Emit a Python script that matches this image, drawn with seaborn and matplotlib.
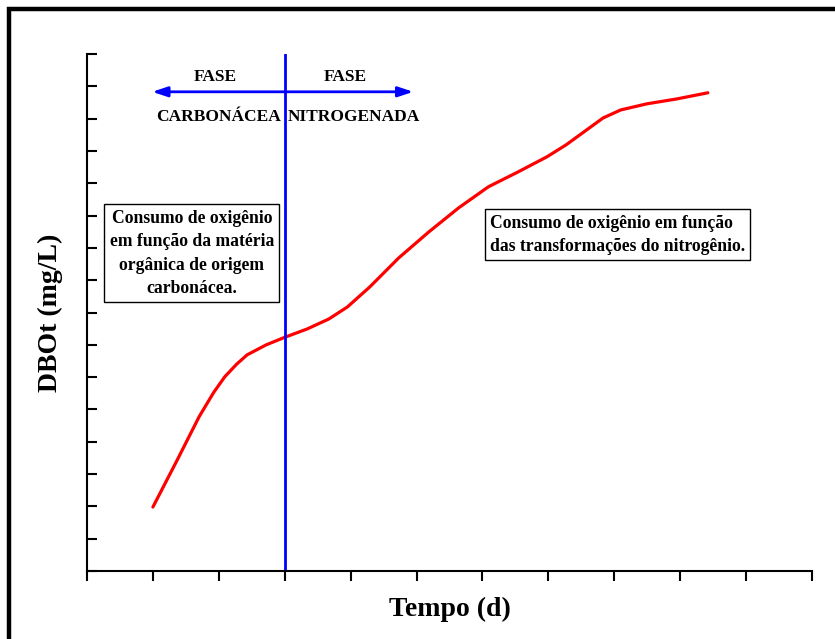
import matplotlib
matplotlib.use("Agg")
import matplotlib.pyplot as plt
from matplotlib.patches import Rectangle
import pandas as pd
import seaborn as sns

# curve (x in tick units, y in tick units)
tempo = [1.00, 1.37, 1.70, 1.92, 2.09, 2.27, 2.43, 2.72, 3.01, 3.34, 3.67, 3.95, 4.29, 4.73,
         5.19, 5.64, 6.09, 6.54, 6.98, 7.27, 7.54, 7.83, 8.10, 8.50, 8.95, 9.42]
dbo = [1.98, 3.44, 4.77, 5.52, 6.01, 6.40, 6.69, 7.00, 7.24, 7.49, 7.80, 8.17, 8.79, 9.69,
       10.50, 11.24, 11.89, 12.35, 12.82, 13.19, 13.59, 14.02, 14.27, 14.46, 14.61, 14.80]
x_fase = 3.01
y_seta = 14.83
x_seta_esq = 0.99
x_seta_dir = 4.95

df = pd.DataFrame({"Tempo": tempo, "DBOt": dbo})

sns.set_style("ticks")
plt.rcParams["font.family"] = ["Liberation Serif", "DejaVu Serif"]
plt.rcParams["font.weight"] = "bold"
plt.rcParams["text.color"] = "black"
plt.rcParams["axes.labelcolor"] = "black"
plt.rcParams["xtick.color"] = "black"
plt.rcParams["ytick.color"] = "black"
plt.rcParams["axes.edgecolor"] = "black"

fig = plt.figure(figsize=(8.35, 6.39), dpi=100)
ax = fig.add_axes([87 / 835, 68 / 639, 725 / 835, 517 / 639])

sns.lineplot(data=df, x="Tempo", y="DBOt", ax=ax, color="red", linewidth=2.3, sort=False)
ax.axvline(x_fase, color="blue", linewidth=2)

arrow = dict(arrowstyle="-|>,head_length=0.9,head_width=0.3", color="blue", lw=2, shrinkA=0, shrinkB=0)
ax.annotate("", xy=(x_seta_esq, y_seta), xytext=(x_fase, y_seta), arrowprops=arrow)
ax.annotate("", xy=(x_seta_dir, y_seta), xytext=(x_fase, y_seta), arrowprops=arrow)

ax.text(1.94, 15.29, "FASE", ha="center", va="center", fontsize=12.5, weight="bold")
ax.text(3.92, 15.29, "FASE", ha="center", va="center", fontsize=12.5, weight="bold")
ax.text(2.00, 14.05, "CARBONÁCEA", ha="center", va="center", fontsize=12.5, weight="bold")
ax.text(4.05, 14.05, "NITROGENADA", ha="center", va="center", fontsize=12.5, weight="bold")

box = dict(boxstyle="square,pad=0.3", facecolor="white", edgecolor="black", linewidth=1)
ax.text(1.59, 9.83, "Consumo de oxigênio\nem função da matéria\norgânica de origem\ncarbonácea.",
        ha="center", va="center", fontsize=12.7, weight="bold", linespacing=1.5, bbox=box)
ax.text(8.05, 10.40, "Consumo de oxigênio em função\ndas transformações do nitrogênio.",
        ha="center", va="center", multialignment="left", fontsize=12.7, weight="bold",
        linespacing=1.5, bbox=box)

ax.set_xlim(0, 11)
ax.set_ylim(0, 16)
ax.set_xticks(range(0, 12))
ax.set_yticks(range(0, 17))
ax.set_xticklabels([])
ax.set_yticklabels([])
ax.tick_params(axis="x", direction="out", length=7, width=1.5)
ax.tick_params(axis="y", direction="in", length=7, width=1.5)
sns.despine(ax=ax)
for side in ["left", "bottom"]:
    ax.spines[side].set_linewidth(1.5)

ax.set_xlabel("Tempo (d)", fontsize=20, weight="bold", labelpad=8)
ax.set_ylabel("DBOt (mg/L)", fontsize=20, weight="bold", labelpad=14)

fig.patches.append(Rectangle((9 / 835, -0.1), 1.2, 1.1 - 9 / 639,
                             transform=fig.transFigure, fill=False,
                             edgecolor="black", linewidth=3.2))

fig.savefig("out.png", dpi=100)
